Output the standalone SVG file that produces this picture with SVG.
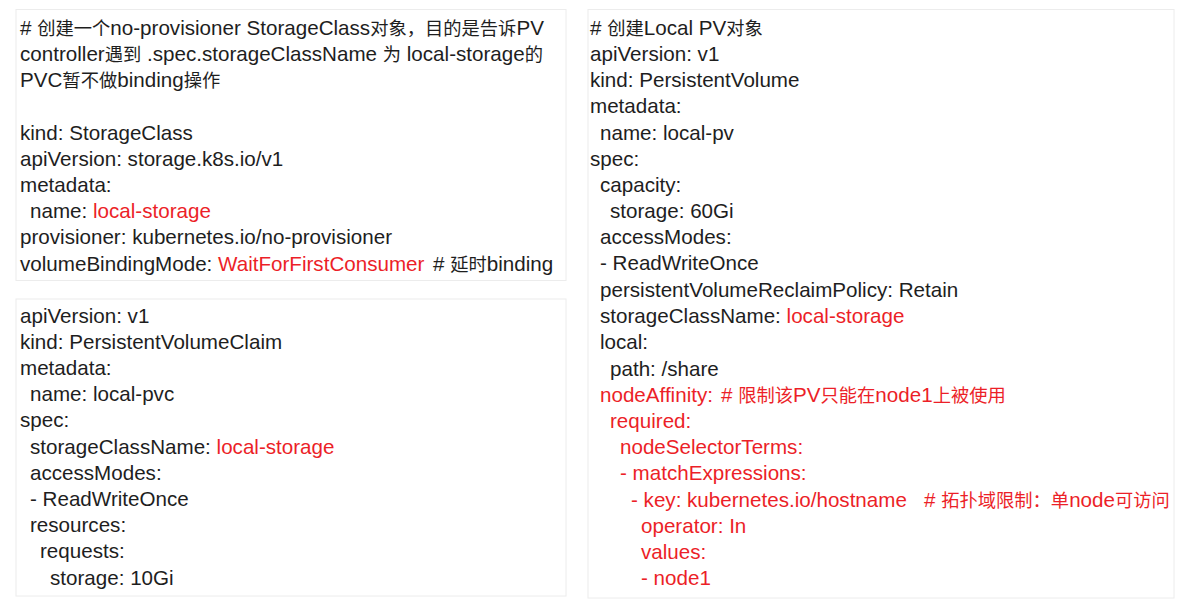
<svg xmlns="http://www.w3.org/2000/svg" width="1193" height="600" viewBox="0 0 1193 600">
<style>
.box{fill:#ffffff;stroke:#ececec;stroke-width:1}
text{font-family:"Liberation Sans","Noto Sans CJK SC",sans-serif;font-size:20.6px;fill:#1e1e1e}
.c{font-family:"Noto Sans CJK SC",sans-serif;font-size:18.3px}
.r{fill:#ec1f28}
</style>
<rect x="0" y="0" width="1193" height="600" fill="#ffffff"/>
<g id="storageclass">
<rect class="box" x="16" y="9.5" width="550" height="271"/>
<text x="20" y="35"># <tspan class="c">创建一个</tspan>no-provisioner StorageClass<tspan class="c">对象，目的是告诉</tspan>PV</text>
<text x="20" y="61">controller<tspan class="c">遇到</tspan> .spec.storageClassName <tspan class="c">为</tspan> local-storage<tspan class="c">的</tspan></text>
<text x="20" y="87">PVC<tspan class="c">暂不做</tspan>binding<tspan class="c">操作</tspan></text>
<text x="20" y="140">kind: StorageClass</text>
<text x="20" y="166">apiVersion: storage.k8s.io/v1</text>
<text x="20" y="192">metadata:</text>
<text x="30" y="218">name: <tspan class="r">local-storage</tspan></text>
<text x="20" y="244">provisioner: kubernetes.io/no-provisioner</text>
<text x="20" y="271">volumeBindingMode: <tspan class="r">WaitForFirstConsumer</tspan><tspan x="433"># <tspan class="c">延时</tspan>binding</tspan></text>
</g>
<g id="pvc">
<rect class="box" x="16" y="299" width="550" height="297"/>
<text x="20" y="323">apiVersion: v1</text>
<text x="20" y="349">kind: PersistentVolumeClaim</text>
<text x="20" y="375">metadata:</text>
<text x="30" y="401">name: local-pvc</text>
<text x="20" y="427">spec:</text>
<text x="30" y="454">storageClassName: <tspan class="r">local-storage</tspan></text>
<text x="30" y="480">accessModes:</text>
<text x="30" y="506">- ReadWriteOnce</text>
<text x="30" y="532">resources:</text>
<text x="40" y="558">requests:</text>
<text x="50" y="585">storage: 10Gi</text>
</g>
<g id="pv">
<rect class="box" x="588" y="9.5" width="586" height="588.5"/>
<text x="590" y="35"># <tspan class="c">创建</tspan>Local PV<tspan class="c">对象</tspan></text>
<text x="590" y="61">apiVersion: v1</text>
<text x="590" y="87">kind: PersistentVolume</text>
<text x="590" y="113">metadata:</text>
<text x="600" y="140">name: local-pv</text>
<text x="590" y="166">spec:</text>
<text x="600" y="192">capacity:</text>
<text x="610" y="218">storage: 60Gi</text>
<text x="600" y="244">accessModes:</text>
<text x="600" y="270">- ReadWriteOnce</text>
<text x="600" y="297">persistentVolumeReclaimPolicy: Retain</text>
<text x="600" y="323">storageClassName: <tspan class="r">local-storage</tspan></text>
<text x="600" y="349">local:</text>
<text x="610" y="376">path: /share</text>
<text class="r" x="600" y="402">nodeAffinity:<tspan x="721"># <tspan class="c">限制该</tspan>PV<tspan class="c">只能在</tspan>node1<tspan class="c">上被使用</tspan></tspan></text>
<text class="r" x="610" y="428">required:</text>
<text class="r" x="620" y="454">nodeSelectorTerms:</text>
<text class="r" x="620" y="480">- matchExpressions:</text>
<text class="r" x="631" y="507">- key: kubernetes.io/hostname<tspan x="924"># <tspan class="c">拓扑域限制：单</tspan>node<tspan class="c">可访问</tspan></tspan></text>
<text class="r" x="641" y="533">operator: In</text>
<text class="r" x="641" y="559">values:</text>
<text class="r" x="641" y="585">- node1</text>
</g>
</svg>
